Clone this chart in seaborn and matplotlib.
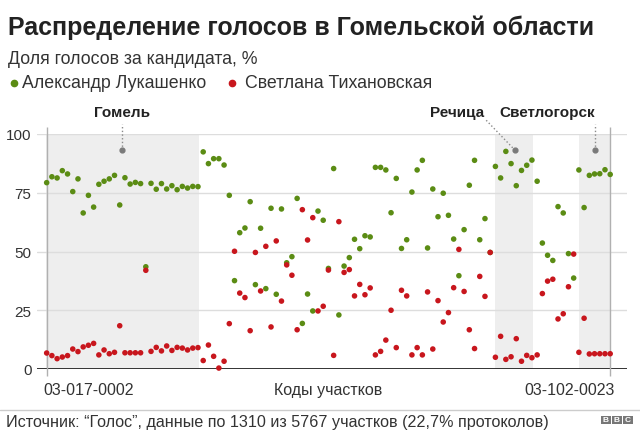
import numpy as np
import pandas as pd
import seaborn as sns
import matplotlib.pyplot as plt
from matplotlib.patches import Rectangle
from matplotlib.lines import Line2D

# vote share per polling station, % (left to right)
lukashenko = [
    79.3, 81.8, 81.3, 84.4, 83.0, 75.5, 80.9, 66.4, 73.9, 68.9,
    78.6, 79.9, 80.9, 82.4, 69.8, 81.4, 78.7, 79.4, 78.9, 43.5,
    79.0, 76.5, 78.9, 76.6, 78.0, 76.3, 77.7, 77.0, 77.7, 77.6,
    92.4, 87.4, 89.5, 89.5, 86.8, 73.9, 37.6, 58.0, 60.0, 71.2,
    35.9, 59.9, 34.2, 68.4, 31.8, 68.1, 45.2, 47.8, 72.6, 19.4,
    31.9, 24.7, 67.2, 63.3, 42.8, 85.3, 23.0, 43.8, 47.4, 55.2,
    51.2, 56.7, 56.2, 85.8, 85.8, 84.7, 66.5, 81.1, 51.3, 55.0,
    75.3, 84.7, 88.8, 51.5, 76.6, 64.8, 74.8, 65.4, 55.3, 39.7,
    59.3, 78.2, 88.8, 55.0, 64.0, 49.6, 86.2, 81.3, 92.6, 87.4,
    78.0, 84.5, 86.7, 88.9, 79.9, 53.6, 48.4, 46.2, 69.1, 66.4,
    49.1, 38.7, 84.7, 68.7, 82.4, 83.0, 83.1, 84.8, 82.8,
]
tikhanovskaya = [
    6.8, 5.7, 4.4, 5.1, 5.7, 8.5, 7.4, 9.4, 10.1, 10.9,
    6.0, 8.1, 6.5, 7.1, 18.4, 6.9, 6.9, 6.9, 6.9, 42.0,
    7.5, 9.2, 7.7, 9.8, 7.9, 9.2, 8.9, 8.1, 8.9, 9.1,
    3.6, 10.2, 5.4, 0.4, 3.3, 19.3, 50.1, 32.3, 30.4, 16.3,
    49.6, 33.2, 52.2, 17.9, 54.5, 28.9, 44.3, 39.9, 16.7, 67.8,
    54.9, 64.4, 24.7, 26.7, 42.1, 5.8, 62.7, 41.1, 42.3, 31.1,
    36.0, 31.6, 34.5, 6.0, 7.5, 12.3, 25.0, 9.1, 33.5, 31.1,
    6.0, 9.1, 6.0, 32.8, 8.5, 29.1, 20.0, 24.0, 34.6, 50.9,
    33.0, 16.7, 8.7, 39.4, 30.9, 49.6, 5.0, 13.9, 4.1, 5.2,
    12.9, 3.3, 5.8, 4.8, 6.0, 32.1, 37.4, 38.2, 21.3, 23.5,
    35.0, 48.9, 7.1, 21.6, 6.4, 6.5, 6.5, 6.5, 6.5,
]
candidates = ["Александр Лукашенко", "Светлана Тихановская"]
colors = ["#5b8c14", "#c8161d"]
first_code, last_code = "03-017-0002", "03-102-0023"

# cities highlighted on the chart (station index ranges)
cities = ["Гомель", "Речица", "Светлогорск"]
city_start = [-0.1, 86.0, 102.0]
city_end = [29.2, 93.2, 108.0]
city_mark_x = [14.5, 89.8, 105.0]
city_mark_y = 93

df = pd.DataFrame({"station": np.arange(len(lukashenko)),
                   candidates[0]: lukashenko,
                   candidates[1]: tikhanovskaya})
long_df = df.melt(id_vars="station", var_name="candidate", value_name="share")

sns.set_style("white")
plt.rcParams["font.family"] = ["Liberation Sans", "DejaVu Sans"]

W, H = 640, 439
fig = plt.figure(figsize=(W / 100, H / 100), dpi=100)
ax = fig.add_axes([37 / W, 69 / H, 590 / W, 235 / H])

for s, e in zip(city_start, city_end):
    ax.axvspan(s, e, color="#eeeeee", zorder=0, lw=0)

ax.set_axisbelow(True)
ax.yaxis.grid(True, color="#dddddd", lw=1)
ax.axhline(0, color="#333333", lw=1.4, zorder=1)

last = len(lukashenko) - 1
ax.vlines([0, last], -3, 103, color="#b0b0b0", lw=1, clip_on=False, zorder=1)

sns.scatterplot(data=long_df, x="station", y="share", hue="candidate",
                hue_order=candidates, palette=colors, s=16, linewidth=0,
                legend=False, ax=ax, clip_on=False, zorder=3)

# city markers
for i, (name, mx) in enumerate(zip(cities, city_mark_x)):
    ax.scatter([mx], [city_mark_y], s=12, color="#7a7a7a", zorder=4, clip_on=False)
    if i == 1:
        ax.plot([mx, 84.0], [city_mark_y, 106.4], ls=":", color="#8a8a8a", lw=1, clip_on=False)
        ax.text(83.8, 109.4, name, ha="right", va="center", fontsize=11,
                fontweight="bold", color="#222222")
    else:
        ax.plot([mx, mx], [city_mark_y, 104.3], ls=":", color="#8a8a8a", lw=1, clip_on=False)
        tx = mx if i == 0 else 95.9
        ax.text(tx, 109.4, name, ha="center", va="center", fontsize=11,
                fontweight="bold", color="#222222")

ax.set_xlim(-1.853, 111.22)
ax.set_ylim(0, 100)
ax.set_yticks([0, 25, 50, 75, 100])
ax.tick_params(axis="y", length=0, pad=4, labelsize=11, labelcolor="#333333")
ax.set_xticks([])
ax.set_xlabel("")
ax.set_ylabel("")
sns.despine(ax=ax, left=True, bottom=True)

xt = ax.get_xaxis_transform()
ax.text(-0.6, -20.7 / 235, first_code, transform=xt, ha="left", va="center",
        fontsize=11.5, color="#333333")
ax.text(last + 0.8, -20.7 / 235, last_code, transform=xt, ha="right", va="center",
        fontsize=11.5, color="#333333")
fig.text(328 / W, 1 - 390.7 / H, "Коды участков", ha="center", va="center",
         fontsize=11.5, color="#333333")

# header
fig.text(8 / W, 1 - 28 / H, "Распределение голосов в Гомельской области",
         ha="left", va="center", fontsize=18, fontweight="bold", color="#222222")
fig.text(8 / W, 1 - 60 / H, "Доля голосов за кандидата, %", ha="left", va="center",
         fontsize=12.8, color="#333333")
for name, c, dx, tx in zip(candidates, colors, [14, 232], [22, 245]):
    fig.add_artist(Line2D([dx / W], [1 - 84 / H], marker="o", markersize=4.5,
                          color=c, lw=0, transform=fig.transFigure))
    fig.text(tx / W, 1 - 84 / H, name, ha="left", va="center", fontsize=12.8,
             color="#333333")

# footer
fig.add_artist(Line2D([0, 1], [1 - 410.7 / H] * 2, color="#cccccc", lw=1,
                      transform=fig.transFigure))
fig.text(6 / W, 1 - 423 / H,
         "Источник: “Голос”, данные по 1310 из 5767 участков (22,7% протоколов)",
         ha="left", va="center", fontsize=11.6, color="#333333")
for k, letter in enumerate("BBC"):
    x0 = 601 + k * 11
    fig.add_artist(Rectangle((x0 / W, 1 - 424.5 / H), 9.5 / W, 8 / H,
                             color="#777777", lw=0, transform=fig.transFigure))
    fig.text((x0 + 4.75) / W, 1 - 420.5 / H, letter, ha="center", va="center",
             fontsize=6, fontweight="bold", color="white")

fig.savefig("out.png", dpi=100)
